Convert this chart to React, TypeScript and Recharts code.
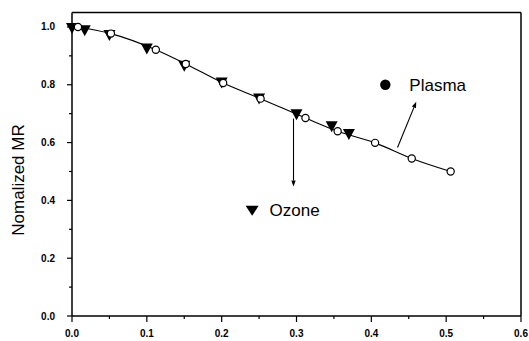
import { ReferenceDot, ReferenceLine, Scatter, ScatterChart, XAxis, YAxis } from 'recharts'

const ozoneX = [0, 0.017, 0.05, 0.1, 0.15, 0.2, 0.25, 0.3, 0.347, 0.37]
const ozoneY = [0.995, 0.987, 0.97, 0.924, 0.864, 0.806, 0.751, 0.696, 0.655, 0.628]

const plasmaX = [0.008, 0.052, 0.112, 0.152, 0.202, 0.252, 0.312, 0.355, 0.405, 0.454, 0.506]
const plasmaY = [1.0, 0.977, 0.921, 0.872, 0.806, 0.752, 0.685, 0.639, 0.599, 0.545, 0.5]

const xTicks = [0, 0.05, 0.1, 0.15, 0.2, 0.25, 0.3, 0.35, 0.4, 0.45, 0.5, 0.55, 0.6]
const yTicks = [0, 0.1, 0.2, 0.3, 0.4, 0.5, 0.6, 0.7, 0.8, 0.9, 1.0]

const ozone = ozoneX.map((x, i) => ({ x, y: ozoneY[i] }))
const plasma = plasmaX.map((x, i) => ({ x, y: plasmaY[i] }))

const font = '"Liberation Sans", Arial, sans-serif'

const isMajorX = (v: number) => Math.round(v * 100) % 10 === 0
const isMajorY = (v: number) => Math.round(v * 10) % 2 === 0

const BottomTick = ({ x, y, payload }: any) => {
  const major = isMajorX(payload.value)
  return (
    <g>
      <line x1={x} y1={y} x2={x} y2={y + (major ? 6 : 3)} stroke="#000" strokeWidth={1.2} />
      {major && (
        <text x={x} y={y + 21} textAnchor="middle" fontSize={10} fontWeight="bold" fontFamily={font} fill="#000">
          {payload.value.toFixed(1)}
        </text>
      )}
    </g>
  )
}

const LeftTick = ({ x, y, payload }: any) => {
  const major = isMajorY(payload.value)
  return (
    <g>
      <line x1={x} y1={y} x2={x - (major ? 5 : 3)} y2={y} stroke="#000" strokeWidth={1.2} />
      {major && (
        <text x={x - 17} y={y + 3.5} textAnchor="end" fontSize={10} fontWeight="bold" fontFamily={font} fill="#000">
          {payload.value.toFixed(1)}
        </text>
      )}
    </g>
  )
}

const TopTick = ({ x, y, payload }: any) => (
  <line x1={x} y1={y} x2={x} y2={y + (isMajorX(payload.value) ? 4 : 3)} stroke="#000" strokeWidth={1.2} />
)

const RightTick = ({ x, y, payload }: any) => (
  <line x1={x} y1={y} x2={x - (isMajorY(payload.value) ? 4 : 3)} y2={y} stroke="#000" strokeWidth={1.2} />
)

const Triangle = ({ cx, cy }: any) => (
  <polygon points={`${cx - 6},${cy - 5.5} ${cx + 6},${cy - 5.5} ${cx},${cy + 5.5}`} fill="#000" />
)

const OpenCircle = ({ cx, cy }: any) => (
  <circle cx={cx} cy={cy} r={3.6} fill="#fff" stroke="#000" strokeWidth={1.2} />
)

const Arrow = ({ x1, y1, x2, y2 }: any) => {
  const a = Math.atan2(y2 - y1, x2 - x1)
  const len = 6
  const w = 2.2
  const bx = x2 - len * Math.cos(a)
  const by = y2 - len * Math.sin(a)
  const px = -Math.sin(a) * w
  const py = Math.cos(a) * w
  return (
    <g>
      <line x1={x1} y1={y1} x2={bx} y2={by} stroke="#000" strokeWidth={1.1} />
      <polygon points={`${x2},${y2} ${bx + px},${by + py} ${bx - px},${by - py}`} fill="#000" />
    </g>
  )
}

const PlasmaKey = ({ cx, cy }: any) => (
  <g>
    <circle cx={cx} cy={cy} r={5.2} fill="#000" />
    <text x={cx + 24} y={cy + 6.5} fontSize={17} fontFamily={font} fill="#000">
      Plasma
    </text>
  </g>
)

const OzoneKey = ({ cx, cy }: any) => (
  <g>
    <polygon points={`${cx - 6.5},${cy - 4.5} ${cx + 6.5},${cy - 4.5} ${cx},${cy + 5.5}`} fill="#000" />
    <text x={cx + 17.5} y={cy + 6} fontSize={17} fontFamily={font} fill="#000">
      Ozone
    </text>
  </g>
)

const YTitle = () => (
  <text
    transform="translate(24,180) rotate(-90)"
    textAnchor="middle"
    fontSize={17}
    fontFamily={font}
    fill="#000"
  >
    Nomalized MR
  </text>
)

export default function App() {
  return (
    <div style={{ position: 'absolute', left: 0, top: 0, background: '#fff' }}>
      <ScatterChart width={529} height={341} margin={{ top: 11.5, right: 7, bottom: 0, left: 0 }}>
        <XAxis
          dataKey="x"
          type="number"
          domain={[0, 0.6]}
          ticks={xTicks}
          interval={0}
          height={25}
          tickSize={0}
          tickMargin={0}
          tickLine={false}
          tick={<BottomTick />}
          axisLine={{ stroke: '#000', strokeWidth: 1.5 }}
        />
        <XAxis
          xAxisId="top"
          orientation="top"
          type="number"
          domain={[0, 0.6]}
          ticks={xTicks}
          interval={0}
          height={1}
          tickSize={0}
          tickMargin={0}
          tickLine={false}
          tick={<TopTick />}
          axisLine={{ stroke: '#000', strokeWidth: 1.5 }}
        />
        <YAxis
          dataKey="y"
          type="number"
          domain={[0, 1.05]}
          ticks={yTicks}
          interval={0}
          width={72}
          tickSize={0}
          tickMargin={0}
          tickLine={false}
          tick={<LeftTick />}
          axisLine={{ stroke: '#000', strokeWidth: 1.5 }}
          label={{ content: <YTitle /> }}
        />
        <YAxis
          yAxisId="right"
          orientation="right"
          type="number"
          domain={[0, 1.05]}
          ticks={yTicks}
          interval={0}
          width={1}
          tickSize={0}
          tickMargin={0}
          tickLine={false}
          tick={<RightTick />}
          axisLine={{ stroke: '#000', strokeWidth: 1.5 }}
        />
        <Scatter
          data={plasma}
          line={{ stroke: '#000', strokeWidth: 1.1 }}
          lineJointType="monotoneX"
          shape={() => <g />}
          isAnimationActive={false}
        />
        <Scatter data={ozone} shape={<Triangle />} isAnimationActive={false} />
        <Scatter data={plasma} shape={<OpenCircle />} isAnimationActive={false} />
        <ReferenceLine
          segment={[
            { x: 0.296, y: 0.683 },
            { x: 0.296, y: 0.448 },
          ]}
          shape={<Arrow />}
        />
        <ReferenceLine
          segment={[
            { x: 0.435, y: 0.583 },
            { x: 0.46, y: 0.741 },
          ]}
          shape={<Arrow />}
        />
        <ReferenceDot x={0.4187} y={0.8} shape={<PlasmaKey />} />
        <ReferenceDot x={0.2407} y={0.3655} shape={<OzoneKey />} />
      </ScatterChart>
    </div>
  )
}
